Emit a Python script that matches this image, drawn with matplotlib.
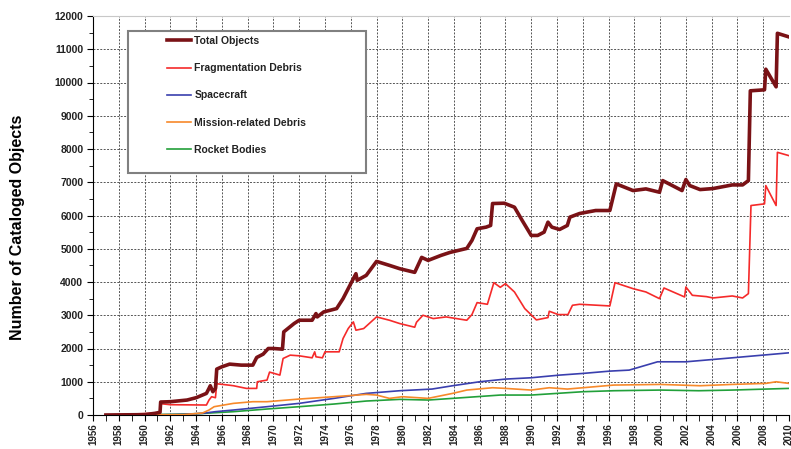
import matplotlib.pyplot as plt
from matplotlib.patches import Rectangle

plt.rcParams['font.family'] = ['Liberation Sans', 'DejaVu Sans']

# Total objects
tot_yr = [1957.0, 1960.0, 1960.8, 1961.2, 1961.25, 1962.0, 1963.3, 1964.0, 1964.8, 1965.0,
          1965.1, 1965.3, 1965.5, 1965.6, 1966.0, 1966.6, 1967.5, 1968.4, 1968.7, 1969.2,
          1969.6, 1970.0, 1970.7, 1970.8, 1971.6, 1972.0, 1973.0, 1973.3, 1973.4, 1973.9,
          1974.9, 1975.4, 1976.0, 1976.4, 1976.5, 1977.2, 1978.0, 1979.0, 1979.8, 1980.96,
          1981.5, 1982.0, 1982.4, 1983.0, 1983.7, 1985.0, 1985.4, 1985.8, 1986.5, 1986.85,
          1987.0, 1987.9, 1988.7, 1989.3, 1990.0, 1990.5, 1991.0, 1991.3, 1991.6, 1992.2,
          1992.8, 1993.0, 1993.75, 1995.0, 1996.1, 1996.6, 1997.9, 1998.9, 1999.95, 2000.2,
          2001.7, 2002.0, 2002.3, 2003.1, 2004.1, 2005.6, 2006.4, 2006.85, 2007.0, 2008.1,
          2008.2, 2009.0, 2009.1, 2010.0]
tot_val = [0, 10, 50, 80, 390, 400, 450, 520, 650, 800,
           880, 700, 800, 1380, 1450, 1530, 1500, 1500, 1730, 1830,
           2000, 2000, 1980, 2500, 2750, 2850, 2850, 3050, 2950, 3100,
           3200, 3500, 3950, 4250, 4050, 4200, 4620, 4500, 4400, 4290,
           4740, 4650, 4710, 4800, 4890, 5010, 5250, 5600, 5650, 5700,
           6360, 6370, 6250, 5850, 5400, 5400, 5500, 5800, 5650, 5580,
           5700, 5950, 6060, 6150, 6150, 6950, 6750, 6800, 6700, 7050,
           6750, 7080, 6900, 6780, 6810, 6920, 6920, 7050, 9750, 9780,
           10400, 9870, 11480, 11370]

# Fragmentation debris
frag_yr = [1957.0, 1961.2, 1961.25, 1962.0, 1964.8, 1965.0, 1965.2, 1965.5, 1965.6, 1966.5,
           1966.9, 1967.9, 1968.7, 1968.75, 1969.5, 1969.7, 1970.5, 1970.75, 1971.3, 1972.0,
           1973.0, 1973.2, 1973.3, 1973.8, 1974.0, 1975.1, 1975.4, 1975.8, 1976.2, 1976.4,
           1977.0, 1978.0, 1979.0, 1979.8, 1980.96, 1981.1, 1981.6, 1982.4, 1983.4, 1985.0,
           1985.4, 1985.8, 1986.6, 1987.1, 1987.6, 1988.0, 1988.7, 1989.5, 1990.4, 1991.3,
           1991.4, 1992.1, 1992.85, 1993.2, 1993.75, 1996.1, 1996.5, 1997.9, 1998.9, 1999.95,
           2000.3, 2001.9, 2002.0, 2002.5, 2003.6, 2004.1, 2005.6, 2006.4, 2006.85, 2007.05,
           2008.1, 2008.2, 2009.0, 2009.1, 2010.0]
frag_val = [0, 60, 340, 310, 300, 450, 550, 520, 940, 900,
            880, 800, 800, 1000, 1050, 1290, 1200, 1700, 1800, 1780,
            1720, 1900, 1750, 1720, 1900, 1900, 2300, 2600, 2800, 2550,
            2600, 2950, 2850, 2750, 2640, 2790, 3000, 2900, 2950, 2850,
            3020, 3380, 3330, 3980, 3840, 3950, 3700, 3200, 2860, 2930,
            3120, 3020, 3020, 3300, 3330, 3280, 3980, 3800, 3700, 3500,
            3820, 3550, 3850, 3600, 3560, 3520, 3580, 3520, 3650, 6300,
            6350, 6900, 6300, 7900, 7800]

# Spacecraft
sc_yr = [1957, 1961, 1963, 1964.5, 1965.5, 1966.9, 1969.5, 1972, 1974.7, 1977.2,
         1979.8, 1982.3, 1983.9, 1986, 1988, 1990, 1992.2, 1994, 1996.1, 1997.6,
         1999.8, 2002, 2005.6, 2010]
sc_val = [0, 5, 20, 50, 100, 150, 250, 350, 500, 650,
          730, 780, 880, 1000, 1080, 1120, 1200, 1250, 1320, 1350,
          1600, 1600, 1720, 1870]

# Mission-related debris
mrd_yr = [1957, 1963, 1964.5, 1965.0, 1965.4, 1966.9, 1968.4, 1969.5, 1972, 1974.7,
          1977.2, 1978, 1979, 1980, 1982, 1983.9, 1985, 1987, 1988, 1990,
          1991.4, 1992.8, 1994, 1996.4, 2000, 2003.1, 2005.6, 2008.2, 2009, 2010]
mrd_val = [0, 10, 60, 150, 250, 350, 400, 400, 480, 550,
           620, 600, 500, 550, 500, 650, 750, 820, 800, 750,
           820, 780, 820, 900, 920, 880, 920, 950, 1000, 950]

# Rocket bodies
rb_yr = [1957, 1960, 1962, 1964.2, 1966.9, 1969.5, 1972, 1974.7, 1977.2, 1979.8,
         1982, 1983.9, 1987.6, 1990, 1994, 1996.4, 2000, 2003, 2005.6, 2010]
rb_val = [0, 10, 20, 40, 100, 180, 250, 330, 420, 470,
          450, 500, 600, 600, 700, 730, 750, 730, 750, 800]

fig = plt.figure(figsize=(7.91, 4.49), dpi=100)
ax = fig.add_axes([93 / 791, 34 / 449, 696 / 791, 399 / 449])

ax.plot(tot_yr, tot_val, color='#7a1216', lw=2.6, label='Total Objects', zorder=6)
ax.plot(frag_yr, frag_val, color='#f52a2a', lw=1.2, label='Fragmentation Debris', zorder=5)
ax.plot(sc_yr, sc_val, color='#3a3fae', lw=1.2, label='Spacecraft', zorder=4)
ax.plot(mrd_yr, mrd_val, color='#f7892a', lw=1.2, label='Mission-related Debris', zorder=4)
ax.plot(rb_yr, rb_val, color='#22a03a', lw=1.2, label='Rocket Bodies', zorder=3)

ax.set_xlim(1956, 2010)
ax.set_ylim(0, 12000)
ax.set_xticks(range(1956, 2011, 2))
ax.set_xticks(range(1956, 2011, 1), minor=True)
ax.set_yticks(range(0, 12001, 1000))
ax.set_yticks(range(0, 12001, 500), minor=True)
ax.tick_params(axis='x', labelsize=7, rotation=90, length=4, pad=2)
ax.tick_params(axis='x', which='minor', length=4)
ax.tick_params(axis='y', labelsize=7.5, length=4, pad=3)
ax.tick_params(axis='y', which='minor', length=3)
for lab in ax.get_xticklabels() + ax.get_yticklabels():
    lab.set_fontweight('bold')
    lab.set_color('#222222')

ax.grid(True, which='major', color='#555555', lw=0.7, ls=(0, (2, 1.5)))
ax.set_axisbelow(True)
ax.spines['top'].set_color('#c8c8c8')
ax.spines['right'].set_visible(False)

fig.text(18 / 791, 0.494, 'Number of Cataloged Objects', rotation=90,
         ha='center', va='center', fontsize=11.5, fontweight='bold')

# legend box
box = Rectangle(((128 - 93) / 696, (415 - 173) / 399), (366 - 128) / 696, 142 / 399,
                transform=ax.transAxes, facecolor='white', edgecolor='#808080',
                lw=1.5, zorder=7)
ax.add_patch(box)
leg = ax.legend(loc='upper left', bbox_to_anchor=((170 - 93) / 696 - 0.004, (415 - 36) / 399),
                frameon=False, fontsize=7.5, labelspacing=1.65, handlelength=2.3,
                handletextpad=0.3, borderpad=0, borderaxespad=0)
leg.set_zorder(8)
for t in leg.get_texts():
    t.set_fontweight('bold')
    t.set_color('#222222')

fig.savefig('out.png', dpi=100)
